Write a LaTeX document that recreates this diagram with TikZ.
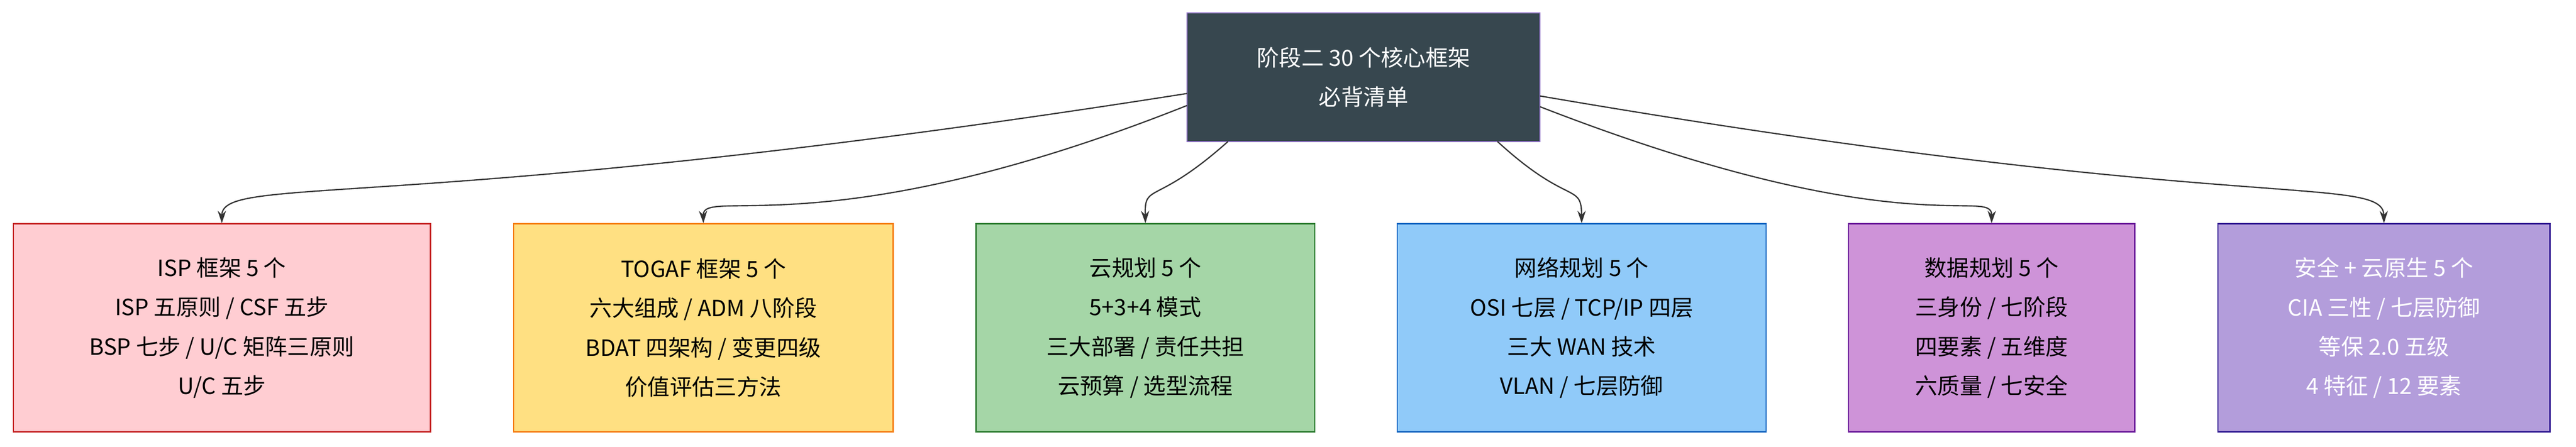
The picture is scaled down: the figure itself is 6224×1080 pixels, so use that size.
\documentclass[tikz,border=0pt]{standalone}
\usepackage{fontspec}
\setmainfont{Noto Sans CJK SC}
\usetikzlibrary{arrows.meta}
\definecolor{rootf}{HTML}{37474F}\definecolor{roots}{HTML}{9575CD}
\definecolor{f1}{HTML}{FFCDD2}\definecolor{s1}{HTML}{C62828}
\definecolor{f2}{HTML}{FFE082}\definecolor{s2}{HTML}{F57F17}
\definecolor{f3}{HTML}{A5D6A7}\definecolor{s3}{HTML}{2E7D32}
\definecolor{f4}{HTML}{90CAF9}\definecolor{s4}{HTML}{1565C0}
\definecolor{f5}{HTML}{CE93D8}\definecolor{s5}{HTML}{6A1B9A}
\definecolor{f6}{HTML}{B39DDB}\definecolor{s6}{HTML}{311B92}
\definecolor{edge}{HTML}{333333}
\begin{document}
\begin{tikzpicture}[x=0.5pt,y=-0.5pt,
  box/.style={draw,line width=1.5pt,align=center,inner sep=0pt,
    font=\fontsize{27pt}{47.5pt}\selectfont,minimum height=251.5pt},
  link/.style={draw=edge,line width=1.5pt,-{Stealth[length=15pt,width=10pt]}}]
\useasboundingbox (0,0) rectangle (6224,1080);
\fill[white] (0,0) rectangle (6224,1080);
\node[box,fill=rootf,draw=roots,text=white,minimum width=426.5pt,minimum height=155.5pt] (root) at (3294.5,186.5) {阶段二 30 个核心框架\\必背清单};
\node[box,fill=f1,draw=s1,minimum width=504pt] (c1) at (536,792.5) {ISP 框架 5 个\\ISP 五原则 / CSF 五步\\BSP 七步 / U/C 矩阵三原则\\U/C 五步};
\node[box,fill=f2,draw=s2,minimum width=458.5pt] (c2) at (1699.5,792.5) {TOGAF 框架 5 个\\六大组成 / ADM 八阶段\\BDAT 四架构 / 变更四级\\价值评估三方法};
\node[box,fill=f3,draw=s3,minimum width=409.5pt] (c3) at (2767.5,792.5) {云规划 5 个\\5+3+4 模式\\三大部署 / 责任共担\\云预算 / 选型流程};
\node[box,fill=f4,draw=s4,minimum width=445.5pt] (c4) at (3821.5,792.5) {网络规划 5 个\\OSI 七层 / TCP/IP 四层\\三大 WAN 技术\\VLAN / 七层防御};
\node[box,fill=f5,draw=s5,minimum width=346pt] (c5) at (4812,792.5) {数据规划 5 个\\三身份 / 七阶段\\四要素 / 五维度\\六质量 / 七安全};
\node[box,fill=f6,draw=s6,text=white,minimum width=401pt] (c6) at (5760,792.5) {安全 + 云原生 5 个\\CIA 三性 / 七层防御\\等保 2.0 五级\\4 特征 / 12 要素};
\coordinate (p1) at (2868,226);
\coordinate (p2) at (2868,255);
\coordinate (p3) at (2967,342);
\coordinate (p4) at (3618,342);
\coordinate (p5) at (3721,258);
\coordinate (p6) at (3721,232);
\draw[link] (p1) .. controls (1000,520) and (536,420) .. (c1.north);
\draw[link] (p2) .. controls (2000,600) and (1697,450) .. (c2.north);
\draw[link] (p3) .. controls (2790,500) and (2765,440) .. (c3.north);
\draw[link] (p4) .. controls (3790,500) and (3821,440) .. (c4.north);
\draw[link] (p5) .. controls (4600,600) and (4813,450) .. (c5.north);
\draw[link] (p6) .. controls (5400,520) and (5758,420) .. (c6.north);
\end{tikzpicture}
\end{document}
